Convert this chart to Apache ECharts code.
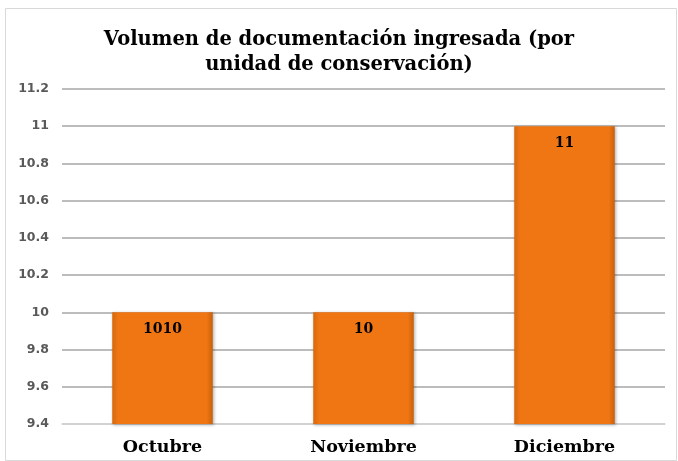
<!DOCTYPE html>
<html><head><meta charset="utf-8">
<script src="https://cdn.jsdelivr.net/npm/echarts@6/dist/echarts.min.js"></script>
<style>html,body{margin:0;padding:0;background:#fff}#c{width:678px;height:461px}</style>
</head><body><div id="c"></div>
<script>
const categories = ["Octubre", "Noviembre", "Diciembre"];
const values = [10, 10, 11];
const barLabels = ["1010", "10", "11"];
const yMin = 9.4, yMax = 11.2, yStep = 0.2;
const titleText = "Volumen de documentación ingresada (por\nunidad de conservación)";

const chart = echarts.init(document.getElementById('c'), null, {renderer: 'canvas'});
const barColor = new echarts.graphic.LinearGradient(0, 0, 1, 0, [
  {offset: 0, color: '#D7680C'},
  {offset: 0.06, color: '#F07614'},
  {offset: 0.94, color: '#F07614'},
  {offset: 1, color: '#C9600A'}
]);
chart.setOption({
  animation: false,
  graphic: [{type: 'rect', shape: {x: 5.5, y: 8.5, width: 671, height: 452}, style: {fill: 'none', stroke: '#D9D9D9', lineWidth: 1}}],
  title: {
    text: titleText, left: 'center', top: 22,
    textStyle: {fontFamily: 'DejaVu Serif', fontWeight: 'bold', fontSize: 19.5, color: '#000', lineHeight: 25}
  },
  grid: {left: 62, right: 13, top: 89, bottom: 37, containLabel: false},
  xAxis: {
    type: 'category', data: categories,
    axisLine: {show: true, lineStyle: {color: '#D9D9D9', width: 1.5}},
    axisTick: {show: false},
    axisLabel: {fontFamily: 'DejaVu Serif', fontWeight: 'bold', fontSize: 17.5, color: '#000', margin: 14}
  },
  yAxis: {
    type: 'value', min: yMin, max: yMax, interval: yStep,
    axisLine: {show: false}, axisTick: {show: false},
    splitLine: {lineStyle: {color: '#A6A6A6', width: 1.5}},
    axisLabel: {fontFamily: 'DejaVu Sans', fontWeight: 'bold', fontSize: 12.5, color: '#595959', margin: 13,
      formatter: v => String(Math.round(v * 10) / 10)}
  },
  series: [{
    type: 'bar', data: values, barWidth: '50%',
    itemStyle: {color: barColor, shadowColor: 'rgba(0,0,0,0.3)', shadowBlur: 3, shadowOffsetX: 1, shadowOffsetY: 1},
    label: {show: true, position: 'insideTop', distance: 10, formatter: p => barLabels[p.dataIndex],
      fontFamily: 'DejaVu Serif', fontWeight: 'bold', fontSize: 14, color: '#000'}
  }]
});
</script></body></html>
